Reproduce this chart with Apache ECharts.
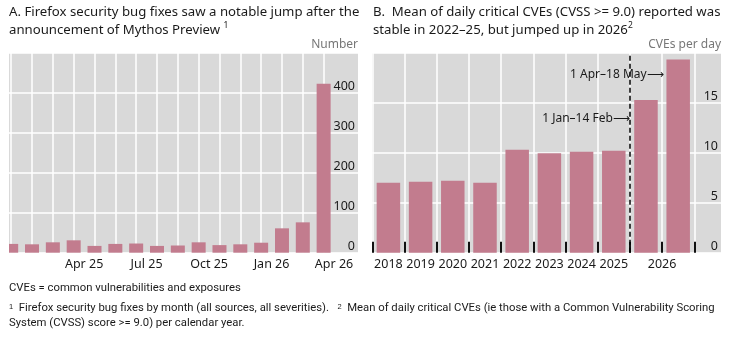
<!DOCTYPE html>
<html>
<head>
<meta charset="utf-8">
<script src="https://cdn.jsdelivr.net/npm/echarts@6/dist/echarts.min.js"></script>
<style>
  html, body { margin: 0; padding: 0; background: #fff; }
  #main { width: 729px; height: 340px; }
</style>
</head>
<body>
<div id="main"></div>
<script>
// panel A: monthly firefox security bug fixes
const months = ['Jan 25', 'Feb 25', 'Mar 25', 'Apr 25', 'May 25', 'Jun 25', 'Jul 25', 'Aug 25',
  'Sep 25', 'Oct 25', 'Nov 25', 'Dec 25', 'Jan 26', 'Feb 26', 'Mar 26', 'Apr 26'];
const bugFixes = [22, 21, 26, 31, 17, 22, 23, 17, 18, 26, 19, 21, 25, 61, 76, 423];
const monthLabels = ['Apr 25', 'Jul 25', 'Oct 25', 'Jan 26', 'Apr 26'];

// panel B: mean daily critical CVEs
const periods = ['2018', '2019', '2020', '2021', '2022', '2023', '2024', '2025', '1 Jan–14 Feb', '1 Apr–18 May'];
const cvesPerDay = [7.0, 7.1, 7.2, 7.0, 10.3, 9.95, 10.1, 10.2, 15.3, 19.35];
const yearLabels = ['2018', '2019', '2020', '2021', '2022', '2023', '2024', '2025', '2026'];

const BAR = '#c27c8e';
const BG = '#d9d9d9';
const FONT = "'Noto Sans', 'Open Sans', sans-serif";
const NOTE_FONT = "Roboto, 'Noto Sans', sans-serif";
const TXT = '#1a1a1a';

const chart = echarts.init(document.getElementById('main'), null, { renderer: 'canvas' });

const monthPos = monthLabels.map(m => months.indexOf(m) + 0.5);
const yearPos = yearLabels.map((y, i) => i < 8 ? i : 8.5);

const titleStyle = {
  fontFamily: FONT, fontSize: 13.2, fontWeight: 'normal', color: TXT, lineHeight: 18,
  rich: { sup: { fontFamily: FONT, fontSize: 8.5, verticalAlign: 'top', lineHeight: 18, color: TXT } }
};

const option = {
  animation: false,
  textStyle: { fontFamily: FONT },
  title: [{
    left: 9, top: 3, padding: 0,
    text: 'A. Firefox security bug fixes saw a notable jump after the\nannouncement of Mythos Preview {sup|1}',
    textStyle: titleStyle
  }, {
    left: 373, top: 3, padding: 0,
    text: 'B.  Mean of daily critical CVEs (CVSS >= 9.0) reported was\nstable in 2022–25, but jumped up in 2026{sup|2}',
    textStyle: titleStyle
  }],
  grid: [
    { left: 9, right: 371, top: 53, bottom: 87.3, show: true, backgroundColor: BG, borderWidth: 0,
      containLabel: false, outerBoundsMode: 'none' },
    { left: 372.3, right: 8, top: 53, bottom: 87.3, show: true, backgroundColor: BG, borderWidth: 0,
      containLabel: false, outerBoundsMode: 'none' }
  ],
  xAxis: [{
    gridIndex: 0, type: 'value', min: -0.105, max: 16.65,
    axisLine: { show: false },
    axisTick: { show: false, customValues: months.map((m, i) => i) },
    splitLine: { show: true, lineStyle: { color: '#fff', width: 1.5 } },
    axisLabel: {
      customValues: monthPos, margin: 5, color: TXT, fontSize: 12.5, fontFamily: FONT,
      formatter: v => months[Math.round(v - 0.5)]
    }
  }, {
    gridIndex: 1, type: 'value', min: -0.5, max: 10.33,
    axisLine: { show: false },
    axisTick: {
      show: true, inside: true, length: 11,
      customValues: [-0.5, 0.5, 1.5, 2.5, 3.5, 4.5, 5.5, 6.5, 7.5, 8.5, 9.5],
      lineStyle: { color: '#111', width: 2 }
    },
    splitLine: { show: true, lineStyle: { color: '#fff', width: 1.5 } },
    axisLabel: {
      customValues: yearPos, margin: 5, color: TXT, fontSize: 12.5, fontFamily: FONT,
      formatter: v => yearLabels[yearPos.indexOf(v)]
    }
  }],
  yAxis: [{
    gridIndex: 0, type: 'value', position: 'right', min: 0, max: 500, interval: 100,
    axisLine: { show: false }, axisTick: { show: false },
    splitLine: { show: true, lineStyle: { color: '#fff', width: 1.5 } },
    axisLabel: {
      inside: true, margin: 3, showMaxLabel: false, color: TXT, fontSize: 12.5, fontFamily: FONT,
      verticalAlign: 'bottom', align: 'right'
    }
  }, {
    gridIndex: 1, type: 'value', position: 'right', min: 0, max: 20, interval: 5,
    axisLine: { show: false }, axisTick: { show: false },
    splitLine: { show: true, lineStyle: { color: '#fff', width: 1.5 } },
    axisLabel: {
      inside: true, margin: 3, showMaxLabel: false, color: TXT, fontSize: 12.5, fontFamily: FONT,
      verticalAlign: 'bottom', align: 'right'
    }
  }],
  series: [{
    type: 'bar', xAxisIndex: 0, yAxisIndex: 0, barWidth: 14, clip: true,
    itemStyle: { color: BAR },
    data: bugFixes.map((v, i) => [i, v])
  }, {
    type: 'bar', xAxisIndex: 1, yAxisIndex: 1, barWidth: 23.5,
    itemStyle: { color: BAR },
    data: cvesPerDay.map((v, i) => [i, v]),
    markLine: {
      silent: true, symbol: ['none', 'none'],
      label: { show: false },
      lineStyle: { color: '#000', type: [5, 3], width: 1.5 },
      data: [{ xAxis: 7.5 }]
    },
    markPoint: {
      silent: true, symbol: 'circle', symbolSize: 0.1,
      itemStyle: { color: 'transparent' },
      label: { show: true, position: 'left', distance: 0, color: TXT, fontSize: 12, fontFamily: FONT },
      data: [
        { coord: [7.5, 13.45], label: { formatter: periods[8] + '⟶' } },
        { coord: [8.55, 17.8], label: { formatter: periods[9] + '⟶' } }
      ]
    }
  }],
  graphic: [{
    // the first month's bar is cut by the panel's left edge
    type: 'rect', left: 0, top: 53, z: 100,
    shape: { width: 9, height: 200 },
    style: { fill: '#fff' }
  }, {
    type: 'text', right: 371, top: 39,
    style: { text: 'Number', font: '12px ' + FONT, fill: '#777' }
  }, {
    type: 'text', right: 8, top: 39,
    style: { text: 'CVEs per day', font: '12px ' + FONT, fill: '#777' }
  }, {
    type: 'text', left: 9, top: 283,
    style: { text: 'CVEs = common vulnerabilities and exposures', font: '11.3px ' + NOTE_FONT, fill: TXT }
  }, {
    type: 'text', left: 9, top: 303,
    style: {
      text: '{s|1}  Firefox security bug fixes by month (all sources, all severities).   {s|2}  Mean of daily critical CVEs (ie those with a Common Vulnerability Scoring',
      font: '11.3px ' + NOTE_FONT, fill: TXT,
      rich: { s: { fontSize: 7.5, verticalAlign: 'top', fill: TXT } }
    }
  }, {
    type: 'text', left: 9, top: 318,
    style: { text: 'System (CVSS) score >= 9.0) per calendar year.', font: '11.3px ' + NOTE_FONT, fill: TXT }
  }]
};

chart.setOption(option);
</script>
</body>
</html>
